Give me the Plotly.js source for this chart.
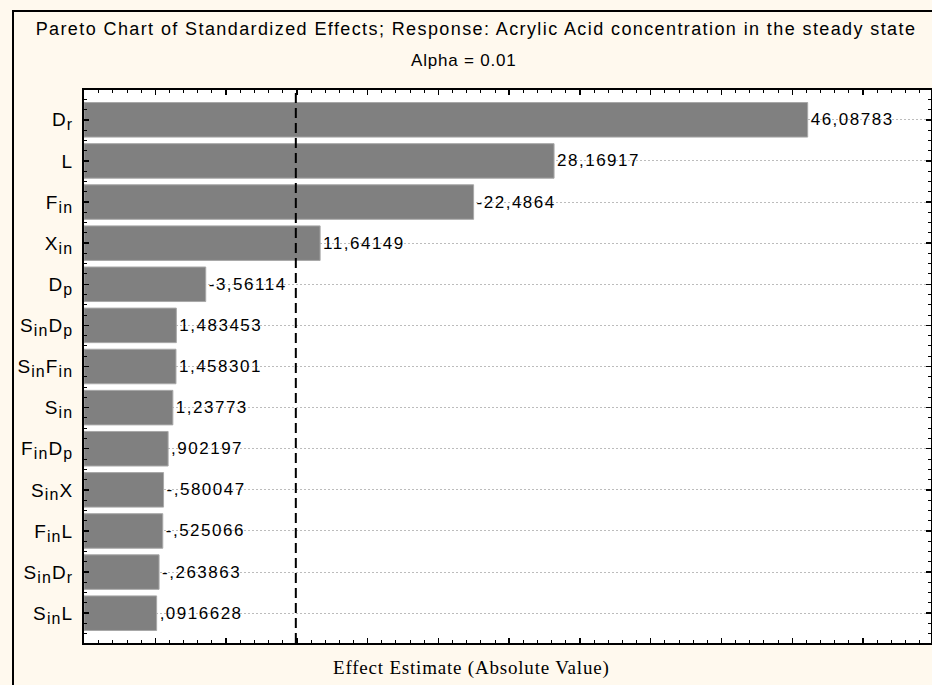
<!DOCTYPE html>
<html>
<head>
<meta charset="utf-8">
<script src="https://cdn.plot.ly/plotly-3.0.1.min.js"></script>
<style>
  html, body { margin: 0; padding: 0; background: #FFF9EE; }
  #chart { width: 932px; height: 685px; }
  /* wide letter spacing of the chart text */
  .gtitle { letter-spacing: 1.4px; }
  .bartext { letter-spacing: 1.5px; }
  .ytick text { letter-spacing: 1.1px; }
  .annotation-text { letter-spacing: 0.8px; }
</style>
</head>
<body>
<div id="chart"></div>
<script>
// Factors, ordered by the size of their standardized effect
const factors = [
  'D<sub>r</sub>', 'L', 'F<sub>in</sub>', 'X<sub>in</sub>', 'D<sub>p</sub>',
  'S<sub>in</sub>D<sub>p</sub>', 'S<sub>in</sub>F<sub>in</sub>', 'S<sub>in</sub>',
  'F<sub>in</sub>D<sub>p</sub>', 'S<sub>in</sub>X', 'F<sub>in</sub>L',
  'S<sub>in</sub>D<sub>r</sub>', 'S<sub>in</sub>L'
];
// Signed standardized effects (t values)
const effects = [
  46.08783, 28.16917, -22.4864, 11.64149, -3.56114,
  1.483453, 1.458301, 1.23773, 0.902197, -0.580047,
  -0.525066, -0.263863, 0.0916628
];
// Critical t value, alpha = 0.01 (two-sided, 2 df)
const criticalT = 9.925;
// Horizontal axis limits
const xRange = [-5.04, 54.8];

// Number format: 7 significant digits, comma decimal mark, no leading zero
function fmt(v) {
  let s = String(Number(v.toPrecision(7)));
  s = s.replace(/^(-?)0\./, '$1.');
  return s.replace('.', ',');
}

// Slightly larger subscripts than the default 70 %
const tickText = factors.map(s =>
  s.replace(/<sub>(.*?)<\/sub>/g, '<sub><span style="font-size:120%">$1</span></sub>'));

const pos = factors.map((_, i) => i);
const absEffects = effects.map(v => Math.abs(v));

const bars = {
  type: 'bar',
  orientation: 'h',
  y: pos,
  base: xRange[0],
  x: absEffects.map(v => v - xRange[0]),
  width: 0.84,
  marker: { color: '#808080', line: { color: '#a8a8a8', width: 1 } },
  text: effects.map(fmt),
  textposition: 'outside',
  constraintext: 'none',
  cliponaxis: false,
  textfont: { family: 'Liberation Sans, Arial, sans-serif', size: 17, color: '#000' },
  hoverinfo: 'skip'
};

const fontSans = 'Liberation Sans, Arial, sans-serif';

const layout = {
  width: 932,
  height: 685,
  margin: { l: 84, r: 1, t: 90, b: 42 },
  paper_bgcolor: '#FFF9EE',
  plot_bgcolor: '#FFFFFF',
  showlegend: false,
  title: {
    text: 'Pareto Chart of Standardized Effects; Response: Acrylic Acid concentration in the steady state',
    font: { family: fontSans, size: 18, color: '#000' },
    xref: 'paper', x: (476 - 84) / 847, xanchor: 'center',
    yref: 'container', y: 1 - 29 / 685, yanchor: 'middle'
  },
  xaxis: {
    range: xRange,
    showticklabels: false,
    ticks: 'inside', tick0: 0, dtick: 5, ticklen: 5, tickwidth: 1.5, tickcolor: '#000',
    minor: { ticks: 'inside', tick0: 0, dtick: 1, ticklen: 3, tickwidth: 1, tickcolor: '#000', showgrid: false },
    showgrid: false, zeroline: false,
    showline: true, linecolor: '#000', linewidth: 2, mirror: 'allticks'
  },
  yaxis: {
    range: [pos.length - 1 + 0.725, -0.725],
    tickmode: 'array', tickvals: pos, ticktext: tickText,
    tickfont: { family: fontSans, size: 19, color: '#000' },
    ticks: 'inside', ticklen: 5, tickwidth: 1.5, tickcolor: '#000',
    ticklabelstandoff: 5,
    minor: { ticks: 'inside', tick0: 0, dtick: 0.25, ticklen: 3, tickwidth: 1, tickcolor: '#000', showgrid: false },
    showgrid: true, gridcolor: '#bcbcbc', griddash: '2px,2px', gridwidth: 1,
    zeroline: false,
    showline: true, linecolor: '#000', linewidth: 2, mirror: 'allticks'
  },
  shapes: [
    // critical value reference line
    { type: 'line', xref: 'x', yref: 'paper', x0: criticalT, x1: criticalT, y0: 0, y1: 1,
      line: { color: '#000', width: 2, dash: '10px,5px' }, layer: 'above' },
    // outer chart frame
    { type: 'rect', xref: 'paper', yref: 'paper',
      x0: (13 - 84) / 847, x1: 1.1, y0: -0.2, y1: (643 - 11) / 553,
      line: { color: '#000', width: 2 }, fillcolor: 'rgba(0,0,0,0)', layer: 'below' }
  ],
  annotations: [
    { text: 'Alpha = 0.01', showarrow: false,
      xref: 'paper', x: (464 - 84) / 847, xanchor: 'center',
      yref: 'paper', y: (643 - 61) / 553, yanchor: 'middle',
      font: { family: fontSans, size: 17, color: '#000' } },
    { text: 'Effect Estimate (Absolute Value)', showarrow: false,
      xref: 'paper', x: (471.5 - 84) / 847, xanchor: 'center',
      yref: 'paper', y: (643 - 668) / 553, yanchor: 'middle',
      font: { family: 'Liberation Serif, Times New Roman, serif', size: 19, color: '#000' } }
  ]
};

Plotly.newPlot('chart', [bars], layout, { displayModeBar: false, staticPlot: true });
</script>
</body>
</html>
